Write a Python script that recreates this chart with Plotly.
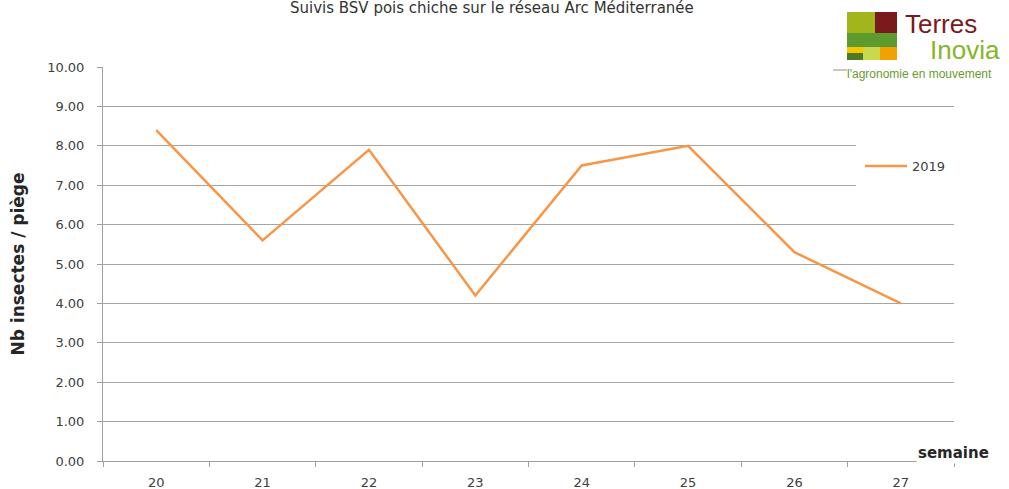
import plotly.graph_objects as go

weeks = ["20", "21", "22", "23", "24", "25", "26", "27"]
values_2019 = [8.4, 5.6, 7.9, 4.2, 7.5, 8.0, 5.3, 4.0]
series_name = "2019"
title_text = "Suivis BSV pois chiche sur le réseau Arc Méditerranée"
y_title = "Nb insectes / piège"
x_title = "semaine"

W, H = 1009, 489
L, R, T, B = 103, 954, 67, 461

def px(x):
    return (x - L) / (R - L)

def py(y):
    return (B - y) / (B - T)

fig = go.Figure()
fig.add_trace(go.Scatter(x=weeks, y=values_2019, mode="lines", name=series_name,
                         line=dict(color="#f79646", width=2.5)))

shapes = []
shapes.append(dict(type="rect", xref="paper", yref="paper", x0=px(856), x1=px(962),
                   y0=py(190), y1=py(140), fillcolor="white", line=dict(width=0), layer="above"))
logo = [
    (847, 875, 12, 33, "#a2b51a"),
    (875, 897, 12, 33, "#7a1a1c"),
    (847, 897, 33, 47, "#5e9a2e"),
    (847, 863, 47, 53, "#f7c800"),
    (847, 863, 53, 60, "#4b7a22"),
    (863, 880, 47, 60, "#c9d94e"),
    (880, 897, 47, 60, "#f0a200"),
]
for x0, x1, y0, y1, c in logo:
    shapes.append(dict(type="rect", xref="paper", yref="paper", x0=px(x0), x1=px(x1),
                       y0=py(y1), y1=py(y0), fillcolor=c, line=dict(width=0), layer="above"))
shapes.append(dict(type="line", xref="paper", yref="paper", x0=px(833), x1=px(847),
                   y0=py(70), y1=py(70), line=dict(color="#909090", width=1), layer="above"))

annotations = [
    dict(text=title_text, xref="paper", yref="paper", x=px(492), y=py(8), showarrow=False,
         xanchor="center", yanchor="middle", font=dict(family="DejaVu Sans", size=15, color="#333333")),
    dict(text="<b>" + x_title + "</b>", xref="paper", yref="paper", x=px(953), y=py(453),
         showarrow=False, xanchor="center", yanchor="middle", bgcolor="white",
         font=dict(family="DejaVu Sans", size=15, color="#262626")),
    dict(text="Terres", xref="paper", yref="paper", x=px(903), y=py(24), showarrow=False,
         xanchor="left", yanchor="middle", font=dict(family="Liberation Sans", size=26, color="#7a1a1c")),
    dict(text="Inovia", xref="paper", yref="paper", x=px(928), y=py(50), showarrow=False,
         xanchor="left", yanchor="middle", font=dict(family="Liberation Sans", size=26, color="#86b52a")),
    dict(text="l'agronomie en mouvement", xref="paper", yref="paper", x=px(845), y=py(74), showarrow=False,
         xanchor="left", yanchor="middle", font=dict(family="Liberation Sans", size=12, color="#6a9a30")),
]

fig.update_layout(
    width=W, height=H,
    margin=dict(l=L, r=W - R, t=T, b=H - B, pad=0, autoexpand=False),
    paper_bgcolor="white", plot_bgcolor="white",
    showlegend=True,
    legend=dict(x=px(860), y=py(166), xanchor="left", yanchor="middle", bgcolor="rgba(0,0,0,0)",
                itemwidth=42,
                font=dict(family="DejaVu Sans", size=13, color="#404040")),
    shapes=shapes, annotations=annotations,
    xaxis=dict(type="category", range=[-0.5, 7.5], showgrid=False, showline=True,
               linecolor="#a0a0a0", linewidth=1, ticks="outside", tickson="boundaries",
               ticklen=5, tickcolor="#a0a0a0", ticklabelstandoff=9, automargin=False,
               tickfont=dict(family="DejaVu Sans", size=13, color="#404040")),
    yaxis=dict(range=[0, 10], dtick=1, tickformat=".2f", showgrid=True, gridcolor="#a6a6a6",
               gridwidth=1, showline=True, linecolor="#a0a0a0", linewidth=1, ticks="outside",
               ticklen=5, tickcolor="#a0a0a0", zeroline=False, ticklabelstandoff=10, automargin=False,
               tickfont=dict(family="DejaVu Sans", size=13, color="#404040"),
               title=dict(text="<b>" + y_title + "</b>", standoff=18,
                          font=dict(family="DejaVu Sans", size=17, color="#262626"))),
)

fig.write_html("out.html", config={"displayModeBar": False},
               post_script="document.body.style.margin='0px';")
